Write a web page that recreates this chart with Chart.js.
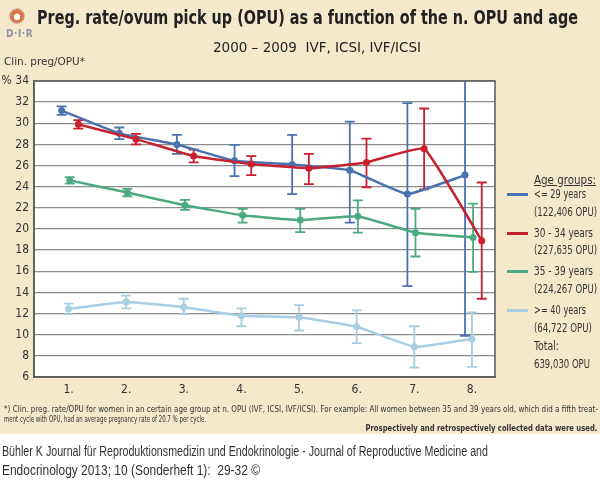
<!DOCTYPE html>
<html>
<head>
<meta charset="utf-8">
<script src="https://cdn.jsdelivr.net/npm/chart.js@4.4.1/dist/chart.umd.min.js"></script>
<style>
  html, body { margin:0; padding:0; background:#fff; }
  #wrap { position:relative; width:600px; height:496px; overflow:hidden; background:#fff; }
  #beige { position:absolute; left:0; top:0; width:600px; height:434px; background:#f6e8ca; }
  #cv { position:absolute; left:0; top:0; }
  .t { position:absolute; white-space:nowrap; color:#2b2b2b; font-family:"DejaVu Sans Condensed","DejaVu Sans",sans-serif; line-height:1; }
  .leg { font-size:12.5px; color:#333; font-family:"Liberation Sans Narrow","DejaVu Sans Condensed",sans-serif; }
  .narrow { font-family:"Liberation Sans Narrow","Liberation Sans",Arial,sans-serif; }
  .swatch { position:absolute; width:21px; height:3px; }
</style>
</head>
<body>
<div id="wrap">
  <div id="beige"></div>
  <canvas id="cv" width="600" height="434"></canvas>

  <!-- logo -->
  <div style="position:absolute;left:9px;top:8px;width:14px;height:14px;border-radius:50%;background:radial-gradient(circle at 50% 55%, #fff 0 30%, #d9794a 32% 70%, #f3e3cf 72%);border:1px solid #c9b9a6;"></div>
  <div class="t" style="left:6px;top:29px;font-size:10px;font-weight:bold;color:#8d94a6;letter-spacing:0.5px;">D·I·R</div>

  <div class="t fit" data-w="541" style="left:37px;top:8px;font-size:19px;font-weight:bold;color:#222;">Preg. rate/ovum pick up (OPU) as a function of the n. OPU and age</div>
  <div class="t fit" data-w="208" style="left:213px;top:40px;font-size:14px;color:#222;">2000 – 2009&nbsp; IVF, ICSI, IVF/ICSI</div>
  <div class="t fit" data-w="81" style="left:4px;top:56px;font-size:11px;color:#333;">Clin. preg/OPU*</div>

  <!-- legend -->
  <div class="t leg fit" data-w="62" style="left:534px;top:174px;text-decoration:underline;">Age groups:</div>
  <div class="swatch" style="left:507px;top:193px;background:#4a72b0;"></div>
  <div class="t leg fit" data-w="52" style="left:534px;top:188px;">&lt;= 29 years</div>
  <div class="t leg fit" data-w="63" style="left:534px;top:206px;">(122,406 OPU)</div>
  <div class="swatch" style="left:507px;top:232px;background:#c8202f;"></div>
  <div class="t leg fit" data-w="59" style="left:534px;top:227px;">30 - 34 years</div>
  <div class="t leg fit" data-w="63" style="left:534px;top:244px;">(227,635 OPU)</div>
  <div class="swatch" style="left:507px;top:270px;background:#4daa80;"></div>
  <div class="t leg fit" data-w="59" style="left:534px;top:265px;">35 - 39 years</div>
  <div class="t leg fit" data-w="63" style="left:534px;top:283px;">(224,267 OPU)</div>
  <div class="swatch" style="left:507px;top:309px;background:#a9cde2;"></div>
  <div class="t leg fit" data-w="52" style="left:534px;top:304px;">&gt;= 40 years</div>
  <div class="t leg fit" data-w="58" style="left:534px;top:322px;">(64,722 OPU)</div>
  <div class="t leg fit" data-w="25" style="left:534px;top:340px;">Total:</div>
  <div class="t leg fit" data-w="56" style="left:534px;top:358px;">639,030 OPU</div>

  <!-- footnote -->
  <div class="t fit" data-w="594" style="left:4px;top:406px;font-size:8px;color:#333;">*) Clin. preg. rate/OPU for women in an certain age group at n. OPU (IVF, ICSI, IVF/ICSI). For example: All women between 35 and 39 years old, which did a fifth treat-</div>
  <div class="t fit" data-w="202" style="left:4px;top:416px;font-size:8px;color:#333;">ment cycle with OPU, had an average pregnancy rate of 20.7 % per cycle.</div>
  <div class="t fitr" data-w="232" style="right:3px;top:424px;font-size:9px;font-weight:bold;color:#333;">Prospectively and retrospectively collected data were used.</div>

  <!-- caption -->
  <div class="t narrow fit" data-w="486" style="left:2px;top:444px;font-size:14px;color:#333;">Bühler K Journal für Reproduktionsmedizin und Endokrinologie - Journal of Reproductive Medicine and</div>
  <div class="t narrow fit" data-w="258" style="left:2px;top:463px;font-size:14px;color:#333;">Endocrinology 2013; 10 (Sonderheft 1):&nbsp; 29-32 ©</div>
</div>

<script>
// ---------------- data ----------------
const categories = ['1.', '2.', '3.', '4.', '5.', '6.', '7.', '8.'];
const yTicks = [6, 8, 10, 12, 14, 16, 18, 20, 22, 24, 26, 28, 30, 32, 34];
const seriesNames = ['<= 29 years', '30 - 34 years', '35 - 39 years', '>= 40 years'];

const age29 = [31.2, 29.05, 28.0, 26.45, 26.1, 25.55, 23.3, 25.1];
const age29Hi = [31.6, 29.6, 28.9, 27.95, 28.9, 30.15, 31.9, 36.0];
const age29Lo = [30.8, 28.5, 27.1, 25.0, 23.3, 20.6, 14.6, 9.9];

const age30 = [29.9, 28.5, 26.9, 26.15, 25.75, 26.3, 27.6, 18.9];
const age30Hi = [30.3, 29.0, 27.5, 26.9, 27.1, 28.55, 31.4, 24.4];
const age30Lo = [29.5, 28.0, 26.3, 25.1, 24.25, 23.95, 23.75, 13.4];

const age35 = [24.6, 23.45, 22.25, 21.3, 20.85, 21.2, 19.65, 19.2];
const age35Hi = [24.9, 23.8, 22.75, 21.9, 21.9, 22.7, 21.9, 22.4];
const age35Lo = [24.3, 23.1, 21.8, 20.6, 19.7, 19.65, 17.4, 15.95];

const age40 = [12.45, 13.1, 12.6, 11.8, 11.65, 10.75, 8.85, 9.6];
const age40Hi = [12.95, 13.7, 13.4, 12.5, 12.8, 12.3, 10.8, 12.1];
const age40Lo = [11.95, 12.5, 11.95, 10.8, 10.4, 9.2, 6.9, 6.95];

// ---------------- styles ----------------
const colors = ['#4a72b0', '#c8202f', '#4daa80', '#a9cde2'];
const xShift = [-0.12, 0.17, 0.02, 0.0];
const drawOrder = [1, 0, 2, 3];

const values = [age29, age30, age35, age40];
const highs = [age29Hi, age30Hi, age35Hi, age40Hi];
const lows = [age29Lo, age30Lo, age35Lo, age40Lo];

const datasets = values.map((vals, s) => ({
  label: seriesNames[s],
  data: vals.map((v, i) => ({ x: i + 1 + xShift[s], y: v, hi: highs[s][i], lo: lows[s][i] })),
  borderColor: colors[s],
  backgroundColor: colors[s],
  pointBackgroundColor: colors[s],
  pointBorderColor: colors[s],
  pointRadius: 3.5,
  pointBorderWidth: 0,
  borderWidth: 2.5,
  tension: 0.1,
  order: drawOrder[s]
}));

const areaPlugin = {
  id: 'area',
  beforeDraw(chart) {
    const { ctx, chartArea: a } = chart;
    ctx.save();
    ctx.fillStyle = '#ffffff';
    ctx.fillRect(a.left, a.top, a.right - a.left, a.bottom - a.top);
    ctx.restore();
  },
  afterDraw(chart) {
    const { ctx, chartArea: a } = chart;
    ctx.save();
    ctx.strokeStyle = '#5a5a5a';
    ctx.lineWidth = 1.5;
    ctx.strokeRect(a.left, a.top, a.right - a.left, a.bottom - a.top);
    ctx.restore();
  }
};

const errorPlugin = {
  id: 'errbars',
  beforeDatasetsDraw(chart) {
    const { ctx, chartArea: a, scales } = chart;
    ctx.save();
    ctx.beginPath();
    ctx.rect(a.left, a.top, a.right - a.left, a.bottom - a.top);
    ctx.clip();
    chart.data.datasets.forEach((ds) => {
      ctx.strokeStyle = ds.borderColor;
      ctx.lineWidth = 1.8;
      ds.data.forEach((p) => {
        const x = scales.x.getPixelForValue(p.x);
        const yh = scales.y.getPixelForValue(p.hi);
        const yl = scales.y.getPixelForValue(p.lo);
        ctx.beginPath();
        ctx.moveTo(x, yh); ctx.lineTo(x, yl);
        ctx.moveTo(x - 5, yh); ctx.lineTo(x + 5, yh);
        ctx.moveTo(x - 5, yl); ctx.lineTo(x + 5, yl);
        ctx.stroke();
      });
    });
    ctx.restore();
  }
};

const tickFont = { family: '"DejaVu Sans Condensed","DejaVu Sans",sans-serif', size: 12 };

new Chart(document.getElementById('cv'), {
  type: 'line',
  data: { datasets },
  plugins: [areaPlugin, errorPlugin],
  options: {
    responsive: false,
    animation: false,
    devicePixelRatio: 1,
    layout: { padding: { top: 81, right: 105, left: 0, bottom: 0 } },
    plugins: { legend: { display: false }, tooltip: { enabled: false } },
    scales: {
      x: {
        type: 'linear',
        min: 0.4,
        max: 8.4,
        afterBuildTicks(scale) { scale.ticks = categories.map((c, i) => ({ value: i + 1 })); },
        afterFit(scale) { scale.height = 57; },
        ticks: {
          callback: (v) => categories[Math.round(v) - 1] || '',
          color: '#333', font: tickFont, padding: 6, maxRotation: 0, autoSkip: false
        },
        grid: { display: false, drawTicks: false },
        border: { color: '#5a5a5a', width: 1.5 }
      },
      y: {
        min: 6,
        max: 34,
        afterBuildTicks(scale) { scale.ticks = yTicks.map(v => ({ value: v })); },
        afterFit(scale) { scale.width = 34; },
        ticks: {
          callback: (v) => (v === yTicks[yTicks.length - 1] ? '% ' + v : String(v)),
          color: '#333', font: tickFont, padding: 5
        },
        grid: { color: '#8c8c8c', lineWidth: 1.3, drawTicks: false },
        border: { color: '#5a5a5a', width: 1.5 }
      }
    }
  }
});

// fit text widths to reference
document.querySelectorAll('.fit, .fitr').forEach(el => {
  const w = el.getBoundingClientRect().width;
  const target = parseFloat(el.dataset.w);
  if (w > 0) {
    el.style.transformOrigin = el.classList.contains('fitr') ? 'right top' : 'left top';
    el.style.transform = 'scaleX(' + (target / w).toFixed(4) + ')';
  }
});
</script>
</body>
</html>
